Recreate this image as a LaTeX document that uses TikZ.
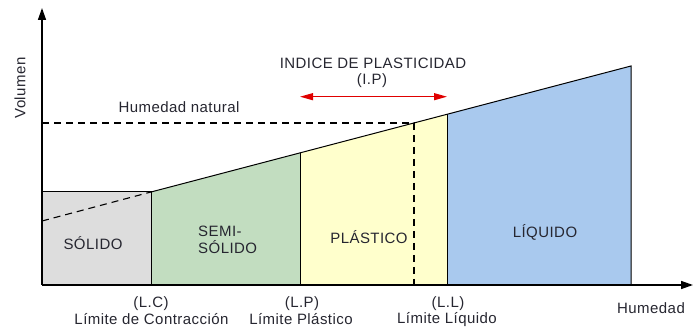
\documentclass[tikz,border=0pt]{standalone}
\usepackage{fontspec}
\setmainfont{Liberation Sans}[LetterSpace=3]
\usetikzlibrary{arrows.meta}
\definecolor{solidgray}{HTML}{DDDDDD}
\definecolor{semigreen}{HTML}{C2DDC0}
\definecolor{plasyellow}{HTML}{FFFFCC}
\definecolor{liqblue}{HTML}{A9C9EE}
\definecolor{txt}{HTML}{262630}
\definecolor{ipred}{HTML}{E00000}
\tikzset{
  region/.style={draw=black, line width=1pt},
  axis/.style={line width=1.5pt, -{Triangle[length=12pt,width=8pt]}},
  dashline/.style={line width=1.1pt, dash pattern=on 7pt off 5pt},
  lbl/.style={text=txt, font=\fontsize{15}{17}\selectfont, inner sep=0pt, align=center},
}
\begin{document}
\begin{tikzpicture}[x=1pt,y=-1pt]
\useasboundingbox (0,0) rectangle (694,328);
% key points
\coordinate (o) at (42,285);
\coordinate (ytop) at (42,8);
\coordinate (xend) at (693,285);
\coordinate (lc) at (151,285);
\coordinate (lct) at (151,192);
\coordinate (lp) at (300,285);
\coordinate (lpt) at (300,152.9);
\coordinate (ll) at (447,285);
\coordinate (llt) at (447,114.3);
\coordinate (le) at (631,285);
\coordinate (let) at (631,66);
\coordinate (st) at (42,192);
\coordinate (hn0) at (42,123);
\coordinate (hn1) at (414,123);
\coordinate (hn2) at (414,285);
\coordinate (ds0) at (42,221);
% regions
\fill[solidgray] (o) -- (st) -- (lct) -- (lc) -- cycle;
\fill[semigreen] (lc) -- (lct) -- (lpt) -- (lp) -- cycle;
\fill[plasyellow] (lp) -- (lpt) -- (llt) -- (ll) -- cycle;
\fill[liqblue] (ll) -- (llt) -- (let) -- (le) -- cycle;
\draw[region] (st) -- (lct) -- (lc);
\draw[region] (lct) -- (let) -- (le);
\draw[region, line width=0.8pt] (lpt) -- (lp);
\draw[region] (llt) -- (ll);
% dashed lines
\draw[dashline] (ds0) -- (lct);
\draw[dashline] (hn0) -- (hn1) -- (hn2);
% axes
\draw[axis] (o) -- (xend);
\draw[axis] (o) -- (ytop);
% red arrow
\coordinate (ipa) at (300,96.7);
\coordinate (ipb) at (447,96.7);
\draw[ipred, line width=1.3pt, {Triangle[length=13pt,width=7pt]}-{Triangle[length=13pt,width=7pt]}] (ipa) -- (ipb);
% texts
\node[lbl, rotate=90] (vol) at (20,88) {Volumen};
\node[lbl] (hnat) at (179,107) {Humedad natural};
\node[lbl] (ipt) at (373,63) {INDICE DE PLASTICIDAD};
\node[lbl] (ipp) at (372,81) {(I.P)};
\node[lbl] (sol) at (93,243) {SÓLIDO};
\node[lbl, align=left, anchor=west] (semi) at (198,240) {SEMI-\\SÓLIDO};
\node[lbl] (pla) at (369,237) {PLÁSTICO};
\node[lbl] (liq) at (545,232) {LÍQUIDO};
\node[lbl] (lcl) at (151,303.5) {(L.C)};
\node[lbl] (lcn) at (151.5,319.5) {Límite de Contracción};
\node[lbl] (lpl) at (302,303.5) {(L.P)};
\node[lbl] (lpn) at (301,319.5) {Límite Plástico};
\node[lbl] (lll) at (448,303.5) {(L.L)};
\node[lbl] (lln) at (447,319.5) {Límite Líquido};
\node[lbl] (hum) at (651,308) {Humedad};
\end{tikzpicture}
\end{document}
